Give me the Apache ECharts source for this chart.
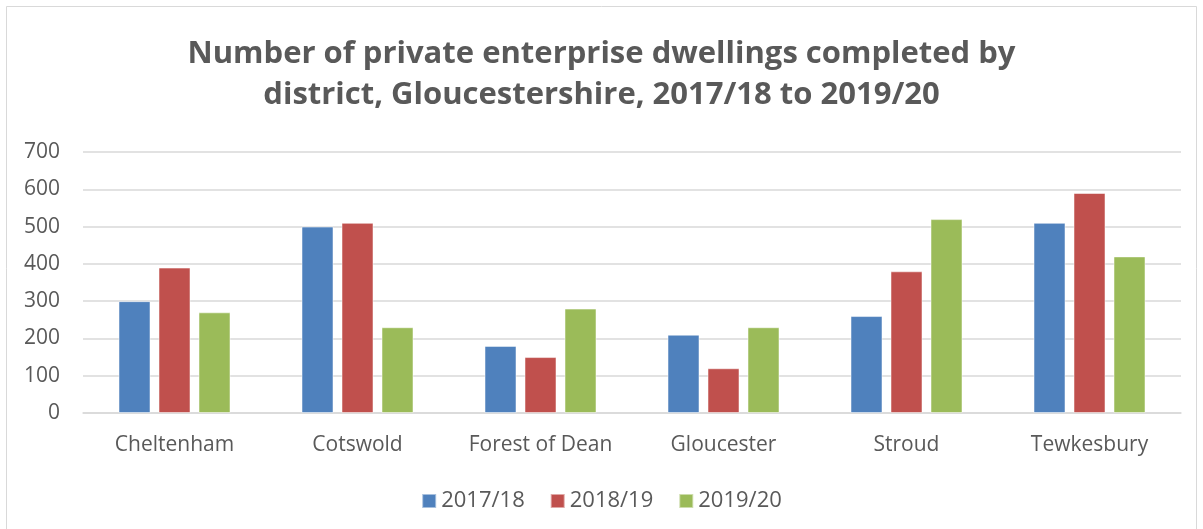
<!DOCTYPE html>
<html>
<head>
<meta charset="utf-8">
<script src="https://cdn.jsdelivr.net/npm/echarts@6/dist/echarts.min.js"></script>
<style>
  html, body { margin: 0; padding: 0; background: #fff; }
  #chart { width: 1203px; height: 529px; }
</style>
</head>
<body>
<div id="chart"></div>
<script>
// districts and values
var districts = ['Cheltenham', 'Cotswold', 'Forest of Dean', 'Gloucester', 'Stroud', 'Tewkesbury'];
var years = ['2017/18', '2018/19', '2019/20'];
var v1718 = [300, 500, 180, 210, 260, 510];
var v1819 = [390, 510, 150, 120, 380, 590];
var v1920 = [270, 230, 280, 230, 520, 420];
var yTicks = [0, 100, 200, 300, 400, 500, 600, 700];

var colors = ['#4F81BD', '#C0504D', '#9BBB59'];
var txt = '#595959';
var fontFam = '"Open Sans", sans-serif';

var myChart = echarts.init(document.getElementById('chart'));

function mkSeries(name, data, i) {
    return {
        name: name,
        type: 'bar',
        data: data,
        barWidth: 32,
        barGap: '25%',
        itemStyle: { color: colors[i], borderColor: 'rgba(255,255,255,0.5)', borderWidth: 1 },
        emphasis: { disabled: true }
    };
}

var option = {
    animation: false,
    backgroundColor: '#fff',
    graphic: [{
        type: 'rect',
        shape: { x: 6.5, y: 6.5, width: 1190, height: 530 },
        style: { fill: 'none', stroke: '#d9d9d9', lineWidth: 1 },
        silent: true
    }],
    title: {
        text: 'Number of private enterprise dwellings completed by\ndistrict, Gloucestershire, 2017/18 to 2019/20',
        left: 'center',
        top: 29,
        textStyle: {
            color: txt,
            fontSize: 31,
            fontWeight: 'bold',
            fontFamily: fontFam,
            lineHeight: 41
        }
    },
    legend: {
        data: years,
        top: 485,
        left: 'center',
        itemWidth: 14,
        itemHeight: 14,
        itemGap: 25,
        icon: 'rect',
        textStyle: { color: txt, fontSize: 22, fontFamily: fontFam }
    },
    grid: {
        left: 83,
        right: 22,
        top: 152,
        bottom: 116
    },
    xAxis: {
        type: 'category',
        data: districts,
        axisTick: { show: false },
        axisLine: { lineStyle: { color: '#d9d9d9', width: 1.5 } },
        axisLabel: { color: txt, fontSize: 21, margin: 22, interval: 0, fontFamily: fontFam }
    },
    yAxis: {
        type: 'value',
        min: yTicks[0],
        max: yTicks[yTicks.length - 1],
        interval: 100,
        axisLine: { show: false },
        axisTick: { show: false },
        splitLine: { lineStyle: { color: '#d9d9d9', width: 1.5 } },
        axisLabel: { color: txt, fontSize: 21, margin: 23, fontFamily: fontFam }
    },
    series: [
        mkSeries(years[0], v1718, 0),
        mkSeries(years[1], v1819, 1),
        mkSeries(years[2], v1920, 2)
    ]
};

myChart.setOption(option);
</script>
</body>
</html>
